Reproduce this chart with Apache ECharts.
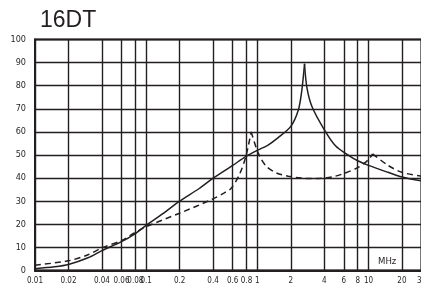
<!DOCTYPE html>
<html lang="en">
<head>
    <meta charset="UTF-8">
    <title>16DT</title>
    <script src="https://cdn.jsdelivr.net/npm/echarts@6/dist/echarts.min.js"></script>
    <style>
        html, body { margin: 0; padding: 0; background: #fff; }
    </style>
</head>
<body>
    <div id="main" style="width: 421px; height: 296px;"></div>
    <script>
        // frequency (MHz) / value pairs
        const solidFreq = [0.01, 0.015, 0.02, 0.03, 0.04, 0.06, 0.08, 0.1, 0.15, 0.2, 0.3, 0.4, 0.5, 0.6, 0.8, 1,
            1.25, 1.54, 2, 2.34, 2.51, 2.66, 2.79, 3.1, 4, 5.05, 6.67, 8, 10, 15, 20, 30];
        const solidVal = [0.8, 1.6, 2.6, 5.5, 8.6, 12.5, 16, 19.5, 25.5, 30, 35.5, 40, 43, 45.5, 49.5, 52,
            54.3, 57.5, 62.4, 69.5, 77.7, 89.5, 79.4, 71, 61, 54, 49.7, 47.5, 45.5, 42.5, 40.5, 38.8];

        const dashFreq = [0.01, 0.02, 0.03, 0.04, 0.06, 0.08, 0.1, 0.2, 0.4, 0.5, 0.58, 0.69, 0.79, 0.88,
            0.98, 1.05, 1.21, 1.49, 1.9, 2.5, 3, 4, 5, 6, 8, 10, 10.9, 15, 20, 30];
        const dashVal = [2.3, 4.2, 6.8, 9.8, 13, 16.5, 19, 24.8, 31, 33.5, 35.5, 41.5, 49.5, 60,
            53, 49.5, 45, 42.2, 40.8, 40, 39.8, 40, 40.8, 42, 44.5, 48, 50.5, 45.5, 42.5, 40.8];

        // resonance peaks: curves are split there so the cusp stays sharp
        const solidPeaks = [2.66];
        const dashPeaks = [0.88, 10.9];

        const xTicks = [0.01, 0.02, 0.04, 0.06, 0.08, 0.1, 0.2, 0.4, 0.6, 0.8, 1, 2, 4, 6, 8, 10, 20, 30];

        const ink = '#231f20';
        const labelFont = 'DejaVu Sans Condensed, Liberation Sans Narrow, sans-serif';

        function branches(xs, ys, peaks) {
            const out = [];
            let cur = [];
            xs.forEach(function (x, i) {
                cur.push([x, ys[i]]);
                if (peaks.indexOf(x) >= 0) {
                    out.push(cur);
                    cur = [[x, ys[i]]];
                }
            });
            out.push(cur);
            return out;
        }

        function lineSeries(data, dashed) {
            return {
                type: 'line',
                data: data,
                symbol: 'none',
                smooth: 0.3,
                lineStyle: { color: ink, width: 1.5, type: dashed ? [6, 4] : 'solid' }
            };
        }

        const series = []
            .concat(branches(solidFreq, solidVal, solidPeaks).map(d => lineSeries(d, false)))
            .concat(branches(dashFreq, dashVal, dashPeaks).map(d => lineSeries(d, true)));

        var myChart = echarts.init(document.getElementById('main'));
        var option = {
            animation: false,
            title: {
                text: '16DT',
                left: 35,
                top: 4,
                textStyle: { color: ink, fontSize: 23, fontWeight: 'normal', fontFamily: 'Liberation Sans, Arial, sans-serif' }
            },
            grid: {
                left: 35, right: -0.5, top: 39.5, bottom: 25.5,
                outerBoundsMode: 'none',
                containLabel: false,
                show: true, borderColor: ink, borderWidth: 2
            },
            xAxis: {
                type: 'log',
                logBase: 10,
                min: 0.01,
                max: 30,
                axisLine: { show: true, lineStyle: { color: ink, width: 2 } },
                axisTick: { show: false, customValues: xTicks },
                axisLabel: {
                    customValues: xTicks,
                    interval: 0,
                    hideOverlap: false,
                    margin: 6,
                    color: ink,
                    fontSize: 8,
                    fontFamily: labelFont,
                    formatter: function (v) { return String(+Number(v).toPrecision(2)); }
                },
                splitLine: { show: true, lineStyle: { color: ink, width: 1.4 } },
                minorSplitLine: { show: false }
            },
            yAxis: {
                type: 'value',
                min: 0,
                max: 100,
                interval: 10,
                axisLine: { show: true, lineStyle: { color: ink, width: 2 } },
                axisTick: { show: false },
                axisLabel: {
                    margin: 9,
                    color: ink,
                    fontSize: 9,
                    fontFamily: labelFont
                },
                splitLine: { show: true, lineStyle: { color: ink, width: 1.4 } }
            },
            graphic: [
                {
                    type: 'text',
                    left: 378,
                    top: 257,
                    style: {
                        text: 'MHz',
                        fill: ink,
                        fontSize: 9.5,
                        fontFamily: labelFont
                    }
                }
            ],
            series: series
        };
        myChart.setOption(option);
    </script>
</body>
</html>
